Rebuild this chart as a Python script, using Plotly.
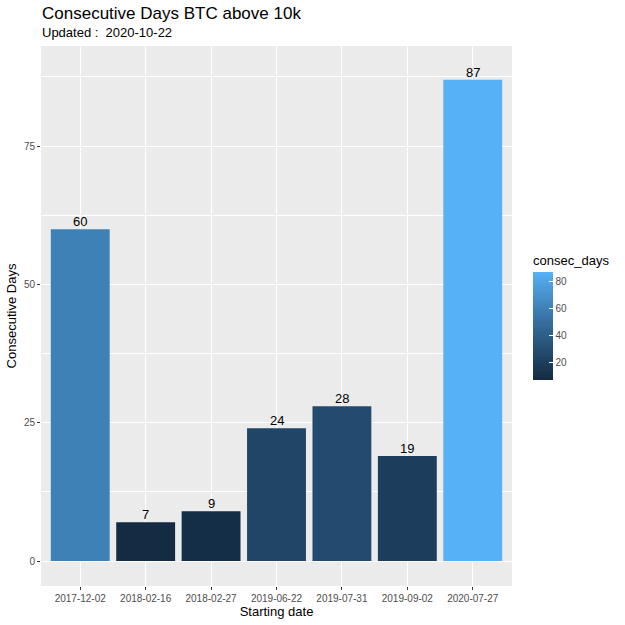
import numpy as np
import plotly.graph_objects as go

start_dates = ["2017-12-02", "2018-02-16", "2018-02-27", "2019-06-22",
               "2019-07-31", "2019-09-02", "2020-07-27"]
consec_days = [60, 7, 9, 24, 28, 19, 87]
y_ticks = [0, 25, 50, 75]
cbar_ticks = [20, 40, 60, 80]

# ggplot2 default continuous gradient (#132B43 -> #56B1F7) interpolated in Lab
def hex2rgb(h):
    h = h.lstrip("#")
    return np.array([int(h[i:i+2], 16) for i in (0, 2, 4)]) / 255.0

def srgb2lin(c):
    return np.where(c <= 0.04045, c / 12.92, ((c + 0.055) / 1.055) ** 2.4)

def lin2srgb(c):
    return np.where(c <= 0.0031308, 12.92 * c, 1.055 * np.clip(c, 0, None) ** (1 / 2.4) - 0.055)

M = np.array([[0.4124, 0.3576, 0.1805], [0.2126, 0.7152, 0.0722], [0.0193, 0.1192, 0.9505]])
Minv = np.linalg.inv(M)
wp = np.array([0.95047, 1.0, 1.08883])

def f(t):
    return np.where(t > (6 / 29) ** 3, np.cbrt(t), t / (3 * (6 / 29) ** 2) + 4 / 29)

def finv(t):
    return np.where(t > 6 / 29, t ** 3, 3 * (6 / 29) ** 2 * (t - 4 / 29))

def rgb2lab(rgb):
    xyz = M @ srgb2lin(rgb) / wp
    fx, fy, fz = f(xyz)
    return np.array([116 * fy - 16, 500 * (fx - fy), 200 * (fy - fz)])

def lab2rgb(lab):
    L, a, b = lab
    fy = (L + 16) / 116
    xyz = np.array([finv(fy + a / 500), finv(fy), finv(fy - b / 200)]) * wp
    return np.clip(lin2srgb(Minv @ xyz), 0, 1)

lo, hi = rgb2lab(hex2rgb("#132B43")), rgb2lab(hex2rgb("#56B1F7"))
colorscale = []
for t in np.linspace(0, 1, 11):
    r, g, b = (lab2rgb(lo + (hi - lo) * t) * 255).round().astype(int)
    colorscale.append([float(t), f"rgb({r},{g},{b})"])

L, R, T, B = 41, 113, 46, 39
PW, PH = 625 - L - R, 625 - T - B

fig = go.Figure()
fig.add_trace(go.Bar(
    x=start_dates, y=consec_days, width=0.9,
    marker=dict(
        color=consec_days, colorscale=colorscale,
        cmin=min(consec_days), cmax=max(consec_days),
        line=dict(width=0),
        showscale=True,
        colorbar=dict(
            title=dict(text="consec_days", side="top",
                       font=dict(family="Liberation Sans, Arial", size=13, color="black")),
            tickvals=cbar_ticks, ticks="inside", ticklen=4, tickcolor="white",
            tickprefix=" ",
            tickfont=dict(family="Liberation Sans, Arial", size=10, color="#4D4D4D"),
            thickness=20, thicknessmode="pixels",
            len=128, lenmode="pixels",
            x=(533 - L) / PW, xanchor="left", xpad=0,
            y=1 - (380 - T) / PH, yanchor="bottom", ypad=0,
            outlinewidth=0,
        ),
    ),
    showlegend=False,
))

for d, v in zip(start_dates, consec_days):
    fig.add_annotation(x=d, y=v, text=str(v), showarrow=False, yanchor="bottom",
                       yshift=-2, font=dict(size=13, color="black"))

fig.update_layout(
    width=625, height=625,
    margin=dict(l=L, r=R, t=T, b=B, autoexpand=False),
    paper_bgcolor="white", plot_bgcolor="#EBEBEB",
    font=dict(family="Liberation Sans, Arial", color="black"),
)
fig.add_annotation(text="Consecutive Days BTC above 10k", xref="paper", yref="paper",
                   x=-1 / PW, y=1 + (T - 13) / PH, xanchor="left", yanchor="middle",
                   showarrow=False, font=dict(size=17, color="black"))
fig.add_annotation(text="Updated :  2020-10-22", xref="paper", yref="paper",
                   x=-1 / PW, y=1 + (T - 33) / PH, xanchor="left", yanchor="middle",
                   showarrow=False, font=dict(size=13, color="black"))

fig.update_xaxes(
    type="category", range=[-0.6, len(start_dates) - 0.4],
    showgrid=True, gridcolor="white", gridwidth=1.1,
    ticks="outside", ticklen=3, tickcolor="#333333",
    tickfont=dict(size=10, color="#4D4D4D"),
    title=dict(text="Starting date", font=dict(size=13, color="black"), standoff=2),
    zeroline=False, showline=False, automargin=False,
)
fig.update_yaxes(
    range=[-4.5, 93.1], tickvals=y_ticks,
    showgrid=True, gridcolor="white", gridwidth=1.1,
    minor=dict(tickvals=[12.5, 37.5, 62.5, 87.5], showgrid=True, gridcolor="white", gridwidth=0.5, ticks=""),
    ticks="outside", ticklen=3, tickcolor="#333333",
    tickfont=dict(size=10, color="#4D4D4D"),
    title=dict(text="Consecutive Days", font=dict(size=13, color="black"), standoff=4),
    zeroline=False, showline=False, automargin=False,
)

fig.write_html("out.html")
